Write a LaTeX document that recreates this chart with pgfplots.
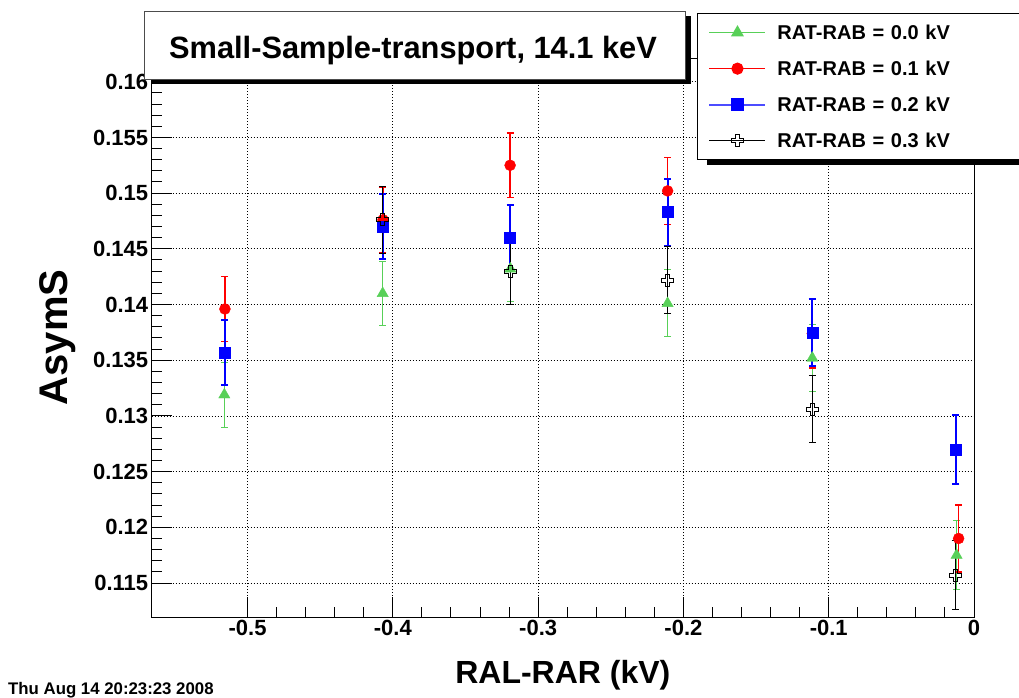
\documentclass[border=0pt]{standalone}
\usepackage{fontspec}
\setmainfont{Liberation Sans}
\usepackage{pgfplots}
\usepackage{pgfplotstable}
\pgfplotsset{compat=1.18}
\usetikzlibrary{shadows}
\definecolor{rgreen}{RGB}{88,208,88}

\pgfdeclareplotmark{ocross}{%
  \pgfpathmoveto{\pgfpoint{-0.33\pgfplotmarksize}{\pgfplotmarksize}}%
  \pgfpathlineto{\pgfpoint{0.33\pgfplotmarksize}{\pgfplotmarksize}}%
  \pgfpathlineto{\pgfpoint{0.33\pgfplotmarksize}{0.33\pgfplotmarksize}}%
  \pgfpathlineto{\pgfpoint{\pgfplotmarksize}{0.33\pgfplotmarksize}}%
  \pgfpathlineto{\pgfpoint{\pgfplotmarksize}{-0.33\pgfplotmarksize}}%
  \pgfpathlineto{\pgfpoint{0.33\pgfplotmarksize}{-0.33\pgfplotmarksize}}%
  \pgfpathlineto{\pgfpoint{0.33\pgfplotmarksize}{-\pgfplotmarksize}}%
  \pgfpathlineto{\pgfpoint{-0.33\pgfplotmarksize}{-\pgfplotmarksize}}%
  \pgfpathlineto{\pgfpoint{-0.33\pgfplotmarksize}{-0.33\pgfplotmarksize}}%
  \pgfpathlineto{\pgfpoint{-\pgfplotmarksize}{-0.33\pgfplotmarksize}}%
  \pgfpathlineto{\pgfpoint{-\pgfplotmarksize}{0.33\pgfplotmarksize}}%
  \pgfpathlineto{\pgfpoint{-0.33\pgfplotmarksize}{0.33\pgfplotmarksize}}%
  \pgfpathclose
  \pgfusepathqstroke
}

\pgfplotstableread{
x y e
-0.5160 0.1319 0.0029
-0.4070 0.1410 0.0029
-0.3191 0.1432 0.0029
-0.2109 0.1401 0.0030
-0.1113 0.1352 0.0030
-0.0120 0.1175 0.0031
}\greendata
\pgfplotstableread{
x y e
-0.5156 0.1396 0.0029
-0.4068 0.1476 0.0029
-0.3193 0.1525 0.0029
-0.2109 0.1502 0.0030
-0.1113 0.1374 0.0031
-0.0106 0.1190 0.0030
}\reddata
\pgfplotstableread{
x y e
-0.5158 0.1357 0.0029
-0.4070 0.1470 0.0029
-0.3193 0.1460 0.0029
-0.2109 0.1483 0.0030
-0.1113 0.1375 0.0030
-0.0124 0.1270 0.0031
}\bluedata
\pgfplotstableread{
x y e
-0.4072 0.1476 0.0030
-0.3193 0.1430 0.0030
-0.2109 0.1422 0.0030
-0.1113 0.1306 0.0030
-0.0130 0.1157 0.0031
}\blackdata

\begin{document}
\begin{tikzpicture}
\useasboundingbox (0,0) rectangle (1019pt,697pt);
% legend shadow (drawn first; black frame/grid lines over it stay invisible)
\fill[black] (706.7pt,532pt) rectangle (1040pt,560pt);
\begin{axis}[
  at={(151.7pt,80pt)}, anchor=south west,
  scale only axis, width=822.3pt, height=559pt,
  xmin=-0.566, xmax=0, ymin=0.11195, ymax=0.16213,
  xtick={-0.5,-0.4,-0.3,-0.2,-0.1,0},
  xticklabels={-0.5,-0.4,-0.3,-0.2,-0.1,0},
  ytick={0.115,0.12,0.125,0.13,0.135,0.14,0.145,0.15,0.155,0.16},
  yticklabels={0.115,0.12,0.125,0.13,0.135,0.14,0.145,0.15,0.155,0.16},
  minor x tick num=4, minor y tick num=4,
  tick pos=left, tick align=inside,
  major tick length=20pt, minor tick length=10pt,
  grid=major,
  major grid style={black, line width=0.8pt, dash pattern=on 1pt off 2pt},
  axis line style={black, line width=1pt},
  tick style={black, line width=1pt},
  ticklabel style={font=\fontsize{22}{22}\selectfont\bfseries},
  xlabel={RAL-RAR (kV)}, ylabel={AsymS},
  xlabel style={at={(axis description cs:0.5,-0.1181)}, anchor=base, font=\fontsize{32}{32}\selectfont\bfseries, inner sep=0pt},
  ylabel style={at={(axis description cs:-0.1018,0.5)}, anchor=base, font=\fontsize{40}{40}\selectfont\bfseries, inner sep=0pt},
  legend style={at={(axis description cs:0.6631,1.0805)}, anchor=north west,
    draw=black, fill=white, line width=1pt, inner xsep=11pt, inner ysep=12pt,
    row sep=21.7pt, column sep=11pt,
    font=\fontsize{20}{20}\selectfont\bfseries,
    nodes={inner sep=0pt, text height=14.3pt, text depth=0pt, text width=240pt}},
  legend cell align=left,
  legend image code/.code={\draw[mark repeat=2, mark phase=2] plot coordinates {(0pt,0pt) (28pt,0pt) (56pt,0pt)};},
]
\addlegendimage{color=rgreen, line width=1pt, mark=triangle*, mark size=6.5pt}
\addlegendentry{RAT-RAB = 0.0 kV}
\addlegendimage{color=red, line width=1.2pt, mark=*, mark size=5.5pt}
\addlegendentry{RAT-RAB = 0.1 kV}
\addlegendimage{color=blue!70!white, line width=2pt, mark=square*, mark size=5.5pt, mark options={blue}}
\addlegendentry{RAT-RAB = 0.2 kV}
\addlegendimage{color=black, line width=1pt, mark=ocross, mark size=6pt, mark options={line width=1pt}}
\addlegendentry{RAT-RAB = 0.3 kV}

\addplot[forget plot, only marks, color=rgreen, mark=triangle*, mark size=6.5pt,
  error bars/.cd, y dir=both, y explicit,
  error bar style={line width=1pt, rgreen},
  error mark options={rotate=90, mark size=3.5pt, line width=1pt, rgreen}]
  table[x=x, y=y, y error=e] {\greendata};
\addplot[forget plot, only marks, color=red, mark=*, mark size=5.5pt,
  error bars/.cd, y dir=both, y explicit,
  error bar style={line width=1.3pt, red},
  error mark options={rotate=90, mark size=3.5pt, line width=1.3pt, red}]
  table[x=x, y=y, y error=e] {\reddata};
\addplot[forget plot, only marks, color=blue, mark=square*, mark size=5.5pt,
  error bars/.cd, y dir=both, y explicit,
  error bar style={line width=1.8pt, blue},
  error mark options={rotate=90, mark size=3.5pt, line width=1.8pt, blue}]
  table[x=x, y=y, y error=e] {\bluedata};
\addplot[forget plot, only marks, color=black, mark=ocross, mark size=6pt, mark options={line width=1pt},
  error bars/.cd, y dir=both, y explicit,
  error bar style={line width=1pt, black},
  error mark options={rotate=90, mark size=3.5pt, line width=1pt, black}]
  table[x=x, y=y, y error=e] {\blackdata};
\end{axis}

\node[draw=black!70, fill=white, line width=1pt, anchor=north west,
  minimum width=540.3pt, minimum height=68pt, inner sep=0pt,
  drop shadow={shadow xshift=6pt, shadow yshift=-5pt, fill=black, opacity=1}]
  at (144.3pt,686pt) {};
\node[anchor=base, inner sep=0pt, font=\fontsize{30.8}{30.8}\selectfont\bfseries]
  at (413pt,638.7pt) {Small-Sample-transport, 14.1 keV};
\node[anchor=base west, inner sep=0pt, font=\fontsize{16.8}{16.8}\selectfont\bfseries]
  at (8pt,3pt) {Thu Aug 14 20:23:23 2008};
\end{tikzpicture}
\end{document}
